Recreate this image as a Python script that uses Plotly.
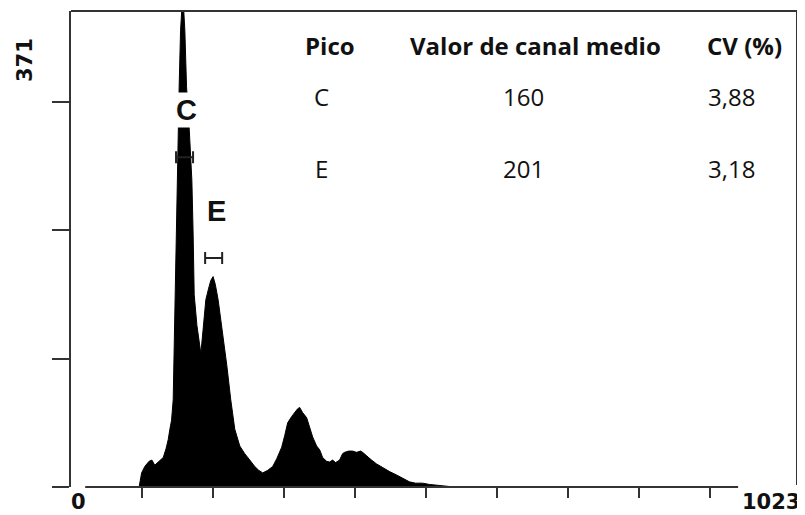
import plotly.graph_objects as go

# ---------------- data ----------------
channel = [92, 96, 99.5, 104, 110, 114, 118, 124, 130, 134, 137, 139.3, 141.7, 144,
           145.3, 146.3, 148.7, 149.5, 151, 152.4, 154.4, 157.5, 160.4, 162.8, 166.7,
           170.3, 172, 174, 173.6, 177.4, 183, 186, 190, 194, 197, 200.2, 203.3, 207.3,
           213.9, 219.5, 225.1, 230.8, 237.8, 244.8, 251.9, 258.9, 264.5, 270.2, 277.2,
           284.2, 289.9, 296.9, 301.1, 305.3, 311, 315.2, 319.4, 322.2, 326.4, 332.1,
           336.3, 340.5, 346.1, 350.4, 354.6, 360.2, 364.4, 368.6, 372.9, 378.5, 382.7,
           385.5, 391.2, 396.8, 402.4, 408, 410.9, 416.5, 423.5, 430.6, 439, 448.9,
           458.7, 467.1, 477, 485.4, 495.3, 505.1, 515, 529, 540]
counts = [0, 0, 11, 16, 20, 21, 17, 20, 23, 30, 37, 45, 52, 68,
          110, 150, 200, 230, 278, 312, 356, 385, 356, 312, 278,
          239, 200, 161, 150, 126, 104, 122, 146, 155, 161, 164, 158, 146,
          120, 95, 68, 45, 32, 26, 21, 16, 13, 11, 13,
          16, 22, 31, 40, 50, 55, 58, 61, 62, 58, 54,
          46, 39, 32, 29, 23, 20, 19.5, 21, 19, 21, 26,
          27, 28, 28, 27, 28, 27, 24, 21, 18, 15, 12,
          9.4, 7, 4, 3, 3, 2, 1.5, 1, 0]

y_max = 371
x_max = 1023
y_ticks = [0, 100, 200, 300]
x_ticks = [100, 200, 300, 400, 500, 600, 700, 800, 900]

peak_names = ["C", "E"]
peak_mean = [160, 201]
peak_cv = ["3,88", "3,18"]
peak_halfwidth = [12, 12]
header = ["Pico", "Valor de canal medio", "CV (%)"]

# ---------------- figure ----------------
fig = go.Figure()

fig.add_trace(go.Scatter(
    x=channel, y=counts, mode="lines", fill="tozeroy",
    line=dict(color="black", width=1), fillcolor="black",
    hoverinfo="skip", showlegend=False))

# marker bars (range of each peak)
bar_y = [257, 178.5]
fig.add_trace(go.Scatter(
    x=peak_mean, y=bar_y, mode="markers",
    marker=dict(size=1, color="rgba(0,0,0,0)"),
    error_x=dict(type="data", array=peak_halfwidth, color="#222",
                 thickness=2, width=6),
    hoverinfo="skip", showlegend=False))

# page body has an 8px margin; the figure is sized so page pixels match the reference
OFF = 8
W, H = 805 - OFF, 515 - OFF
# plot area in page pixels: x 71..797, y 11..487
L, R, T, B = 71 - OFF, 805 - 797, 11 - OFF, 515 - 487
pw = W - L - R
ph = H - T - B

def px(xpage):
    return (xpage - OFF - L) / pw

def py(ypage):
    return (H - B - (ypage - OFF)) / ph

lc = "#333333"
shapes = [
    dict(type="line", xref="paper", yref="paper", x0=0, x1=1, y0=1, y1=1,
         line=dict(color=lc, width=2)),
    dict(type="line", xref="paper", yref="paper", x0=1, x1=1, y0=py(485), y1=1,
         line=dict(color=lc, width=2)),
    dict(type="line", xref="x", yref="paper", x0=20, x1=940, y0=0, y1=0,
         line=dict(color=lc, width=2)),
]

axis_font = dict(family="DejaVu Sans, sans-serif", size=21, color="#111")
tab_font = "Open Sans, sans-serif"

ann = []
ann.append(dict(text="<b>%d</b>" % y_max, xref="paper", yref="paper",
                x=px(25), y=py(60), textangle=-90, showarrow=False,
                font=axis_font, xanchor="center", yanchor="middle"))
ann.append(dict(text="<b>0</b>", xref="paper", yref="paper", x=px(78), y=py(502),
                showarrow=False, font=axis_font, xanchor="center", yanchor="middle"))
ann.append(dict(text="<b>%d</b>" % x_max, xref="paper", yref="paper", x=px(771), y=py(502),
                showarrow=False, font=axis_font, xanchor="center", yanchor="middle"))

# peak labels
label_pos = [(186, 110), (216, 211)]
for name, (lx, ly) in zip(peak_names, label_pos):
    ann.append(dict(text="<b>%s</b>" % name, xref="paper", yref="paper",
                    x=px(lx), y=py(ly), showarrow=False, bgcolor="white",
                    borderpad=1,
                    font=dict(family="Liberation Sans, Arial, sans-serif", size=29, color="#111"),
                    xanchor="center", yanchor="middle"))

# table
col_x = [330, 535, 744]
for h, cx in zip(header, col_x):
    ann.append(dict(text="<b>%s</b>" % h, xref="paper", yref="paper",
                    x=px(cx), y=py(46), showarrow=False,
                    font=dict(family=tab_font, size=24, color="#111"),
                    xanchor="center", yanchor="middle"))
row_y = [96, 168]
row_x = [321, 523, 731]
for name, m, cv, ry in zip(peak_names, peak_mean, peak_cv, row_y):
    for txt, cx in zip([name, str(m), cv], row_x):
        ann.append(dict(text=txt, xref="paper", yref="paper",
                        x=px(cx), y=py(ry), showarrow=False,
                        font=dict(family=tab_font, size=24, color="#111"),
                        xanchor="center", yanchor="middle"))

fig.update_layout(
    width=W, height=H,
    margin=dict(l=L, r=R, t=T, b=B),
    paper_bgcolor="white", plot_bgcolor="white",
    shapes=shapes, annotations=ann,
    xaxis=dict(range=[0, x_max], tickvals=x_ticks, ticks="outside", ticklen=10,
               tickwidth=2, tickcolor=lc, showticklabels=False, showgrid=False,
               zeroline=False, showline=False, fixedrange=True),
    yaxis=dict(range=[0, y_max], tickvals=y_ticks, ticks="outside", ticklen=17,
               tickwidth=2, tickcolor=lc, showticklabels=False, showgrid=False,
               zeroline=False, showline=True, linecolor=lc, linewidth=2,
               fixedrange=True),
)

fig.write_html("out.html")
